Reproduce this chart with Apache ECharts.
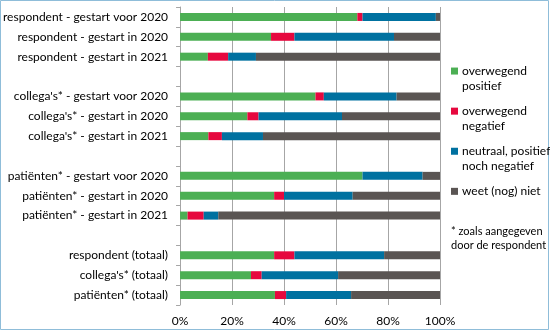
<!DOCTYPE html>
<html>
<head>
<meta charset="utf-8">
<script src="https://cdn.jsdelivr.net/npm/echarts@6/dist/echarts.min.js"></script>
<style>
html,body{margin:0;padding:0;background:#fff;}
#c{width:550px;height:331px;}
</style>
</head>
<body>
<div id="c"></div>
<script>
const categories = [
  "respondent - gestart voor 2020",
  "respondent - gestart in 2020",
  "respondent - gestart in 2021",
  " ",
  "collega's* - gestart voor 2020",
  "collega's* - gestart in 2020",
  "collega's* - gestart in 2021",
  "  ",
  "patiënten* - gestart voor 2020",
  "patiënten* - gestart in 2020",
  "patiënten* - gestart in 2021",
  "   ",
  "respondent (totaal)",
  "collega's* (totaal)",
  "patiënten* (totaal)"
];
const seriesNames = ["overwegend positief", "overwegend negatief", "neutraal, positief noch negatief", "weet (nog) niet"];
const positief = [68.2, 35.0, 10.7, null, 52.1, 25.9, 10.9, null, 70.2, 36.2, 2.9, null, 36.2, 27.3, 36.5];
const negatief = [2.0, 9.0, 7.8, null, 3.2, 4.3, 5.2, null, 0.0, 3.8, 6.2, null, 7.8, 4.1, 4.3];
const neutraal = [28.2, 38.3, 10.7, null, 28.0, 32.1, 15.8, null, 23.1, 26.4, 5.6, null, 34.5, 29.4, 25.0];
const weetNiet = [1.6, 17.7, 70.8, null, 16.7, 37.7, 68.1, null, 6.7, 33.6, 85.3, null, 21.5, 39.2, 34.2];
const xTicks = [0, 20, 40, 60, 80, 100];
const footnote = ["* zoals aangegeven", "door de respondent"];

const colors = ["#4caf54", "#e6083e", "#0071a0", "#5a5553"];
const legendLabels = {
  "overwegend positief": "\noverwegend\npositief",
  "overwegend negatief": "\noverwegend\nnegatief",
  "neutraal, positief noch negatief": "\nneutraal, positief\nnoch negatief",
  "weet (nog) niet": "\nweet (nog) niet\n "
};
const FONT = "Lato";
const chart = echarts.init(document.getElementById('c'), null, {renderer: 'canvas'});
const allData = [positief, negatief, neutraal, weetNiet];
chart.setOption({
  animation: false,
  backgroundColor: '#fff',
  grid: {left: 175, right: 110, top: 7, bottom: 26, containLabel: false},
  xAxis: {
    type: 'value', min: xTicks[0], max: xTicks[xTicks.length - 1], interval: 20,
    axisLine: {show: false},
    axisTick: {show: false},
    splitLine: {show: true, lineStyle: {color: '#a6a6a6', width: 1}},
    axisLabel: {formatter: v => v + '%', color: '#000', fontFamily: FONT, fontSize: 12, margin: 10}
  },
  yAxis: {
    type: 'category', inverse: true, data: categories,
    axisLine: {show: true, lineStyle: {color: '#a6a6a6'}},
    axisTick: {show: true, length: 4, lineStyle: {color: '#a6a6a6'}},
    axisLabel: {color: '#000', fontFamily: FONT, fontSize: 12, margin: 12}
  },
  legend: {
    orient: 'vertical', left: 446, top: 44,
    itemWidth: 7, itemHeight: 7, itemGap: -4,
    icon: 'rect',
    data: seriesNames,
    formatter: n => legendLabels[n],
    textStyle: {color: '#000', fontFamily: FONT, fontSize: 12, lineHeight: 14.7, padding: [0,0,0,-1]}
  },
  graphic: [
    {type: 'rect', shape: {x: 0.5, y: 0.5, width: 548, height: 329}, style: {fill: 'none', stroke: '#8fbdd9', lineWidth: 1}, silent: true},
    {type: 'text', left: 451, top: 224, style: {text: footnote.join('\n'), fill: '#000', font: '11px ' + FONT, lineHeight: 14.5}}
  ],
  series: seriesNames.map((name, i) => ({
    name: name, type: 'bar', stack: 'total', barWidth: 8,
    itemStyle: {color: colors[i]},
    data: allData[i]
  }))
});
</script>
</body>
</html>
